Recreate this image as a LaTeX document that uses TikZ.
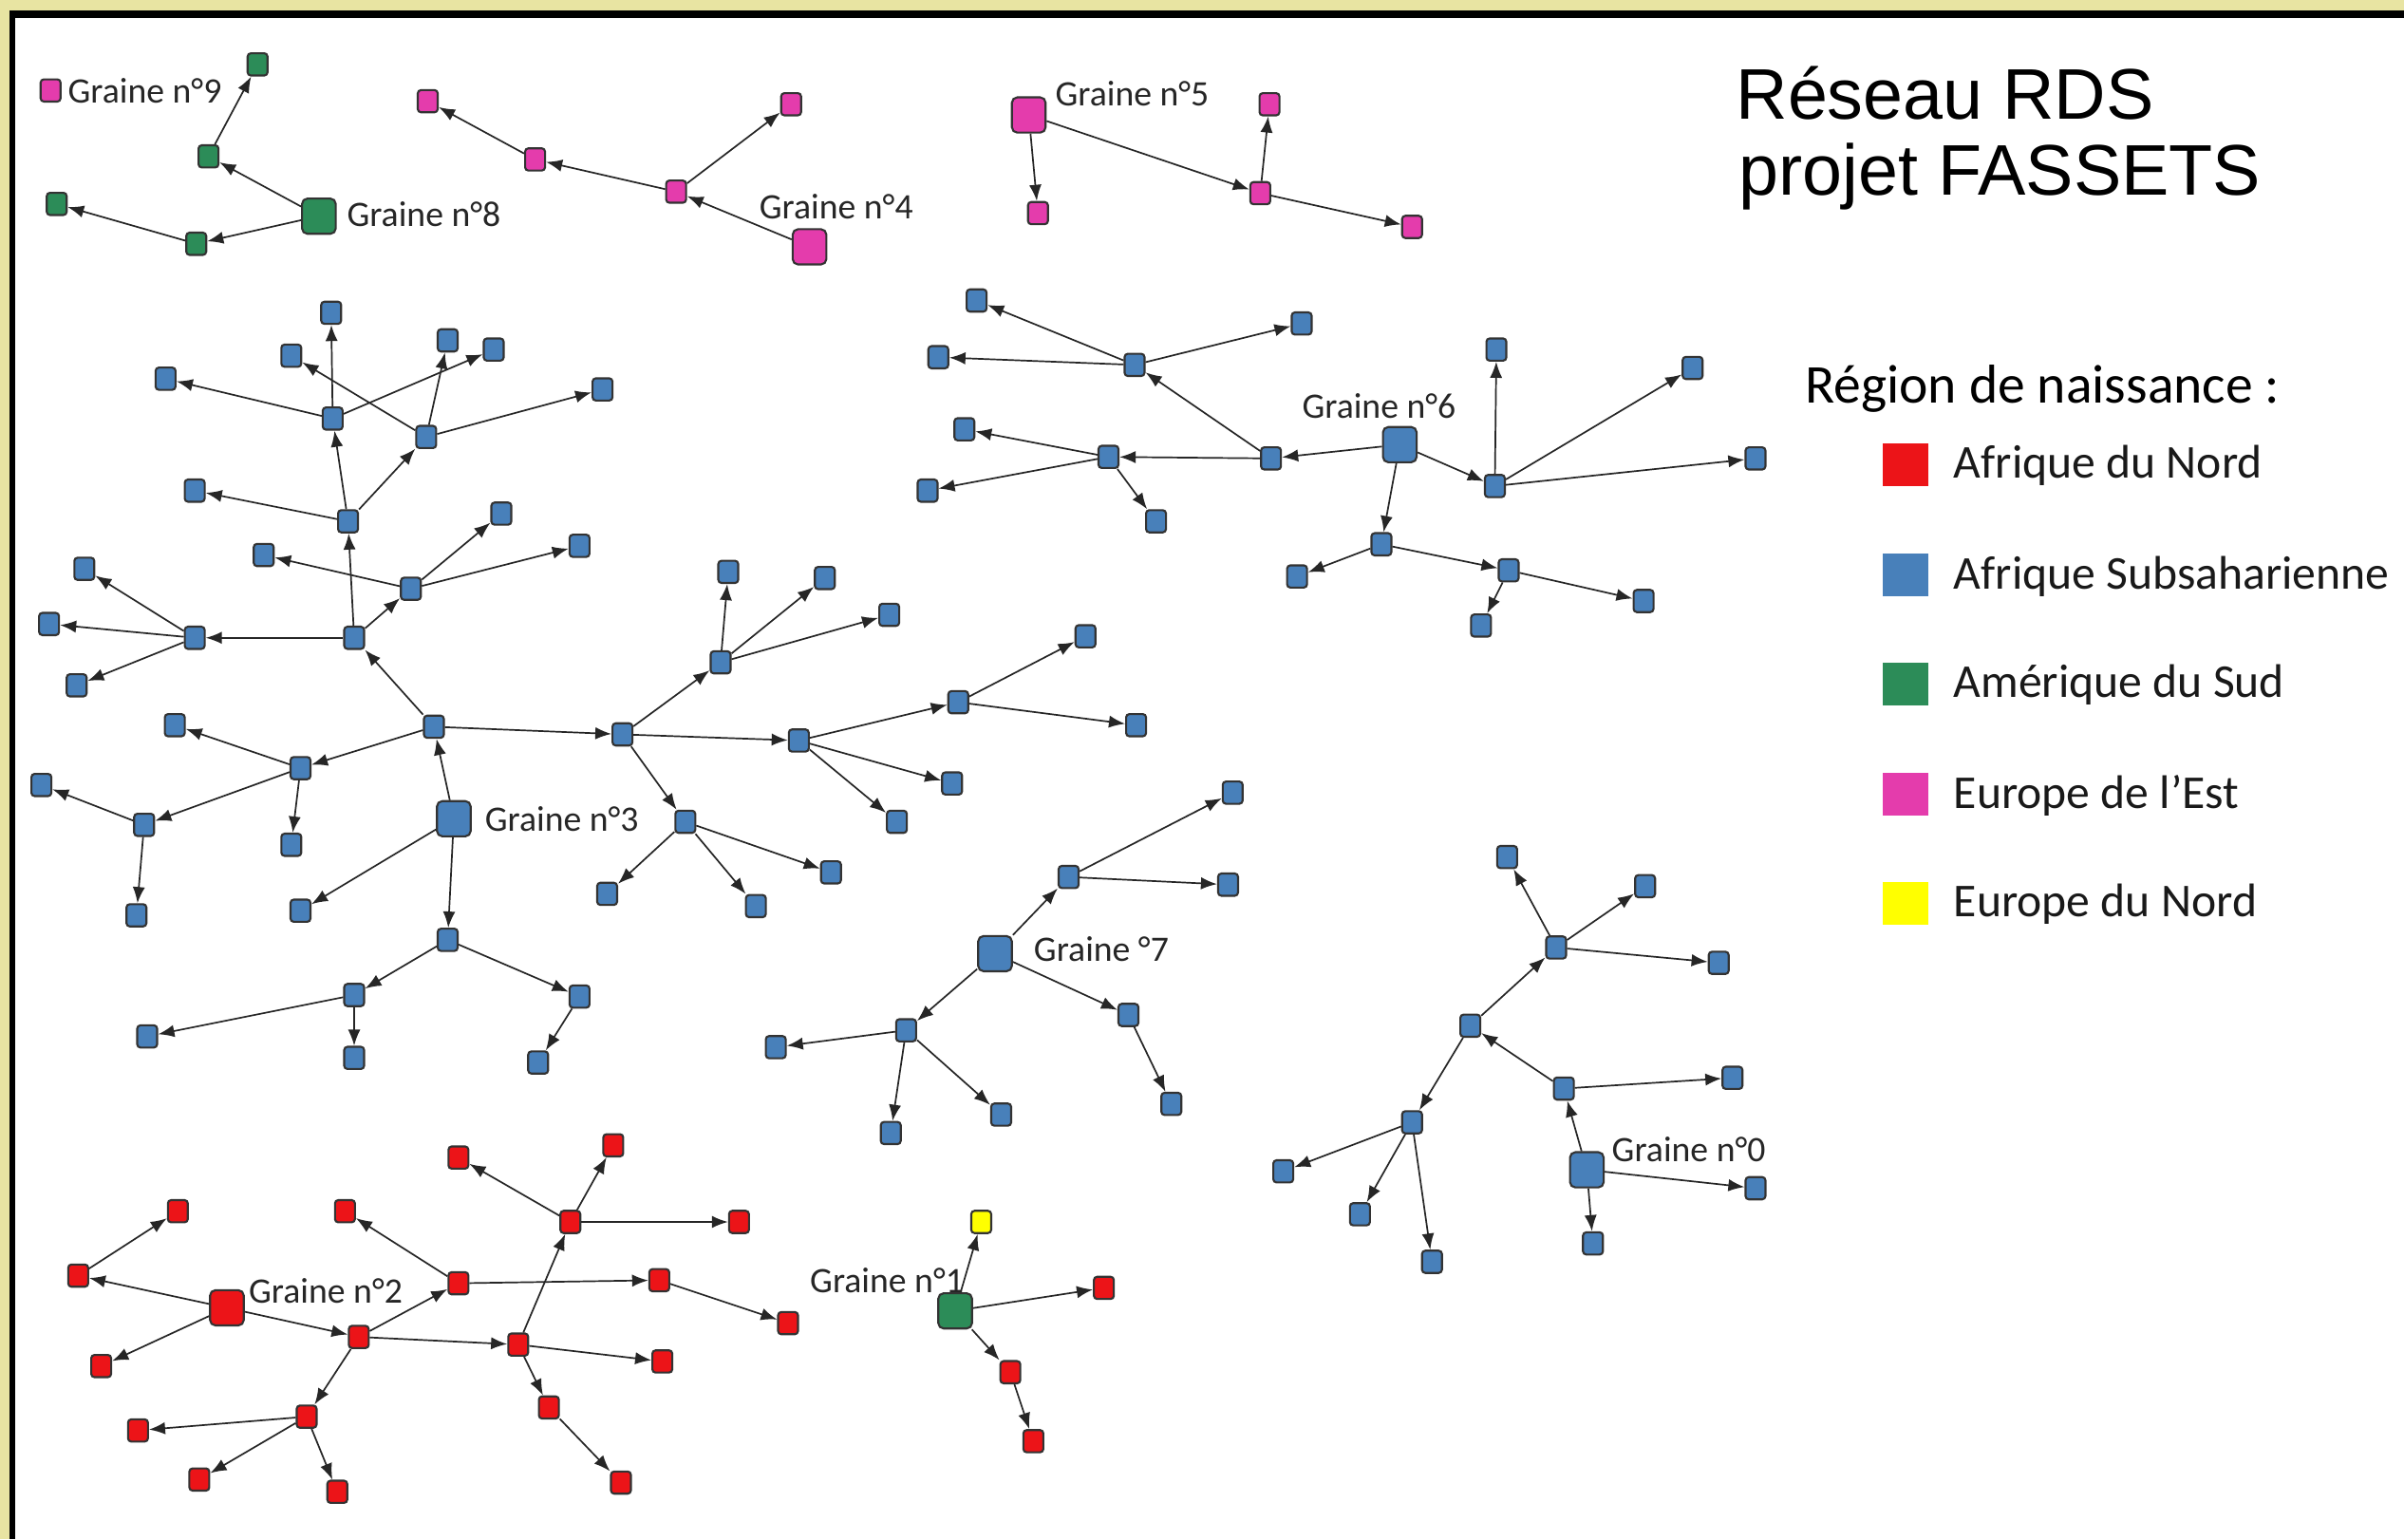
\documentclass[tikz,border=0pt]{standalone}
\usepackage{fontspec}
\setmainfont{Carlito}
\newfontfamily\titlefont{Liberation Sans}
\usetikzlibrary{arrows.meta}
\definecolor{nblue}{RGB}{72,128,186}
\definecolor{nred}{RGB}{236,20,24}
\definecolor{ngreen}{RGB}{44,140,88}
\definecolor{npink}{RGB}{228,60,172}
\definecolor{nyellow}{RGB}{255,255,0}
\definecolor{beige}{RGB}{232,228,162}
\tikzset{
 nd/.style={rectangle, rounded corners=1.2pt, draw=black!80, line width=0.75pt, minimum width=0.26cm, minimum height=0.29cm, inner sep=0pt},
 sd/.style={nd, minimum width=0.44cm, minimum height=0.46cm, rounded corners=2pt},
 bn/.style={nd, fill=nblue}, bs/.style={sd, fill=nblue},
 rn/.style={nd, fill=nred}, rs/.style={sd, fill=nred},
 gn/.style={nd, fill=ngreen}, gs/.style={sd, fill=ngreen},
 pn/.style={nd, fill=npink}, ps/.style={sd, fill=npink},
 yn/.style={nd, fill=nyellow},
 arr/.style={-{Latex[length=6pt,width=4.6pt]}, draw=black!85, line width=0.6pt},
 lab/.style={font=\fontsize{13.3}{15}\selectfont, inner sep=0pt, anchor=west, text=black!85},
 legsq/.style={rectangle, minimum width=0.6cm, minimum height=0.56cm, inner sep=0pt},
 legtx/.style={font=\fontsize{17.5}{20}\selectfont, inner sep=0pt, anchor=base west, text=black!90},
}
\begin{document}
\begin{tikzpicture}[x=0.02cm,y=-0.02cm]
% frame
\fill[beige] (0,0) rectangle (1568,1004);
\fill[black] (6,7) rectangle (1568,1004);
\fill[white] (10,12) rectangle (1568,1004);
\useasboundingbox (0,0) rectangle (1568,1004);

% title
\node[font=\titlefont\fontsize{26.6}{30}\selectfont, anchor=base west, inner sep=0pt] (t1) at (1132,78) {Réseau RDS};
\node[font=\titlefont\fontsize{26.6}{30}\selectfont, anchor=base west, inner sep=0pt] (t2) at (1134,127) {projet FASSETS};

% legend
\node[font=\fontsize{20.3}{24}\selectfont, anchor=base west, inner sep=0pt] (lh) at (1177,263) {Région de naissance :};
\node[legsq, fill=nred] (q1) at (1243,303) {};
\node[legsq, fill=nblue] (q2) at (1243,375) {};
\node[legsq, fill=ngreen] (q3) at (1243,446) {};
\node[legsq, fill=npink] (q4) at (1243,518) {};
\node[legsq, fill=nyellow] (q5) at (1243,589) {};
\node[legtx] (e1) at (1274,312) {Afrique du Nord};
\node[legtx] (e2) at (1274,384) {Afrique Subsaharienne};
\node[legtx] (e3) at (1274,455) {Amérique du Sud};
\node[legtx] (e4) at (1274,527) {Europe de l’Est};
\node[legtx] (e5) at (1274,598) {Europe du Nord};

% ---------- groups 8 / 9 ----------
\node[pn] (n9) at (33,59) {};
\node[lab] (l9) at (44,59) {Graine n°9};
\node[gs] (s8) at (208,141) {};
\node[lab] (l8) at (226,140) {Graine n°8};
\node[gn] (a8) at (136,102) {};
\node[gn] (b8) at (168,42) {};
\node[gn] (c8) at (128,159) {};
\node[gn] (d8) at (37,133) {};
\draw[arr] (s8) -- (a8);
\draw[arr] (a8) -- (b8);
\draw[arr] (s8) -- (c8);
\draw[arr] (c8) -- (d8);

% ---------- group 4 ----------
\node[ps] (s4) at (528,161) {};
\node[lab] (l4) at (495,135) {Graine n°4};
\node[pn] (a4) at (441,125) {};
\node[pn] (b4) at (349,104) {};
\node[pn] (c4) at (279,66) {};
\node[pn] (d4) at (516,68) {};
\draw[arr] (s4) -- (a4);
\draw[arr] (a4) -- (b4);
\draw[arr] (b4) -- (c4);
\draw[arr] (a4) -- (d4);

% ---------- group 5 ----------
\node[ps] (s5) at (671,75) {};
\node[lab] (l5) at (688,61) {Graine n°5};
\node[pn] (a5) at (677,139) {};
\node[pn] (b5) at (822,126) {};
\node[pn] (c5) at (828,68) {};
\node[pn] (d5) at (921,148) {};
\draw[arr] (s5) -- (a5);
\draw[arr] (s5) -- (b5);
\draw[arr] (b5) -- (c5);
\draw[arr] (b5) -- (d5);

% ---------- group 3 ----------
\node[bs] (s3) at (296,534) {};
\node[lab] (l3) at (316,534) {Graine n°3};
\node[bn] (t1) at (283,474) {};
\node[bn] (t2) at (231,416) {};
\node[bn] (t3) at (227,340) {};
\node[bn] (t4) at (217,273) {};
\node[bn] (t5) at (278,285) {};
\node[bn] (u1) at (216,204) {};
\node[bn] (u2) at (108,247) {};
\node[bn] (u3) at (322,228) {};
\node[bn] (u4) at (190,232) {};
\node[bn] (u5) at (292,222) {};
\node[bn] (u6) at (393,254) {};
\node[bn] (t6) at (127,320) {};
\node[bn] (t7) at (127,416) {};
\node[bn] (v1) at (55,371) {};
\node[bn] (v2) at (32,407) {};
\node[bn] (v3) at (50,447) {};
\node[bn] (t8) at (268,384) {};
\node[bn] (v4) at (172,362) {};
\node[bn] (v5) at (327,335) {};
\node[bn] (v6) at (378,356) {};
\node[bn] (t9) at (196,501) {};
\node[bn] (w1) at (114,473) {};
\node[bn] (w2) at (94,538) {};
\node[bn] (w3) at (190,551) {};
\node[bn] (w4) at (27,512) {};
\node[bn] (w5) at (89,597) {};
\node[bn] (w6) at (196,594) {};
\node[bn] (x1) at (292,613) {};
\node[bn] (x2) at (231,649) {};
\node[bn] (x3) at (378,650) {};
\node[bn] (x4) at (96,676) {};
\node[bn] (x5) at (231,690) {};
\node[bn] (x6) at (351,693) {};
\node[bn] (y1) at (406,479) {};
\node[bn] (y2) at (470,432) {};
\node[bn] (y3) at (521,483) {};
\node[bn] (y4) at (447,536) {};
\node[bn] (z1) at (475,373) {};
\node[bn] (z2) at (538,377) {};
\node[bn] (z3) at (580,401) {};
\node[bn] (z4) at (625,458) {};
\node[bn] (z5) at (585,536) {};
\node[bn] (z6) at (621,511) {};
\node[bn] (z7) at (708,415) {};
\node[bn] (z8) at (741,473) {};
\node[bn] (z9) at (396,583) {};
\node[bn] (z10) at (493,591) {};
\node[bn] (z11) at (542,569) {};
\foreach \a/\b in {s3/t1,t1/t2,t2/t3,t3/t4,t3/t5,t4/u1,t4/u2,t4/u3,t5/u4,t5/u5,t5/u6,
  t3/t6,t2/t7,t7/v1,t7/v2,t7/v3,t2/t8,t8/v4,t8/v5,t8/v6,t1/t9,t9/w1,t9/w2,t9/w3,
  w2/w4,w2/w5,s3/w6,s3/x1,x1/x2,x1/x3,x2/x4,x2/x5,x3/x6,t1/y1,y1/y2,y1/y3,y1/y4,
  y2/z1,y2/z2,y2/z3,y3/z4,y3/z5,y3/z6,z4/z7,z4/z8,y4/z9,y4/z10,y4/z11}
  \draw[arr] (\a) -- (\b);

% ---------- group 7 ----------
\node[bs] (s7) at (649,622) {};
\node[lab] (l7) at (674,619) {Graine °7};
\node[bn] (a7) at (697,572) {};
\node[bn] (b7) at (804,517) {};
\node[bn] (c7) at (801,577) {};
\node[bn] (d7) at (736,662) {};
\node[bn] (e7) at (764,720) {};
\node[bn] (f7) at (591,672) {};
\node[bn] (g7) at (506,683) {};
\node[bn] (h7) at (581,739) {};
\node[bn] (i7) at (653,727) {};
\foreach \a/\b in {s7/a7,a7/b7,a7/c7,s7/d7,d7/e7,s7/f7,f7/g7,f7/h7,f7/i7}
  \draw[arr] (\a) -- (\b);

% ---------- group 6 ----------
\node[bs] (s6) at (913,290) {};
\node[lab] (l6) at (849,265) {Graine n°6};
\node[bn] (a6) at (829,299) {};
\node[bn] (b6) at (740,238) {};
\node[bn] (c6) at (723,298) {};
\node[bn] (d6) at (637,196) {};
\node[bn] (e6) at (612,233) {};
\node[bn] (f6) at (849,211) {};
\node[bn] (g6) at (629,280) {};
\node[bn] (h6) at (605,320) {};
\node[bn] (i6) at (754,340) {};
\node[bn] (j6) at (975,317) {};
\node[bn] (k6) at (976,228) {};
\node[bn] (m6) at (1104,240) {};
\node[bn] (o6) at (1145,299) {};
\node[bn] (n6) at (901,355) {};
\node[bn] (p6) at (846,376) {};
\node[bn] (q6) at (984,372) {};
\node[bn] (r6) at (966,408) {};
\node[bn] (u6b) at (1072,392) {};
\foreach \a/\b in {s6/a6,a6/b6,a6/c6,b6/d6,b6/e6,b6/f6,c6/g6,c6/h6,c6/i6,
  s6/j6,j6/k6,j6/m6,j6/o6,s6/n6,n6/p6,n6/q6,q6/r6,q6/u6b}
  \draw[arr] (\a) -- (\b);

% ---------- group 0 ----------
\node[bs] (s0) at (1035,763) {};
\node[lab] (l0) at (1051,750) {Graine n°0};
\node[bn] (a0) at (1020,710) {};
\node[bn] (b0) at (959,669) {};
\node[bn] (c0) at (1130,703) {};
\node[bn] (d0) at (1015,618) {};
\node[bn] (e0) at (983,559) {};
\node[bn] (f0) at (1073,578) {};
\node[bn] (g0) at (1121,628) {};
\node[bn] (h0) at (921,732) {};
\node[bn] (i0) at (837,764) {};
\node[bn] (j0) at (887,792) {};
\node[bn] (k0) at (934,823) {};
\node[bn] (m0) at (1145,775) {};
\node[bn] (n0) at (1039,811) {};
\foreach \a/\b in {s0/a0,a0/b0,a0/c0,b0/d0,d0/e0,d0/f0,d0/g0,b0/h0,h0/i0,h0/j0,h0/k0,s0/m0,s0/n0}
  \draw[arr] (\a) -- (\b);

% ---------- group 2 ----------
\node[rs] (s2) at (148,853) {};
\node[lab] (l2) at (162,842) {Graine n°2};
\node[rn] (a2) at (51,832) {};
\node[rn] (b2) at (116,790) {};
\node[rn] (c2) at (66,891) {};
\node[rn] (d2) at (234,872) {};
\node[rn] (e2) at (299,837) {};
\node[rn] (f2) at (225,790) {};
\node[rn] (g2) at (299,755) {};
\node[rn] (h2) at (372,797) {};
\node[rn] (i2) at (400,747) {};
\node[rn] (j2) at (482,797) {};
\node[rn] (k2) at (430,835) {};
\node[rn] (m2r) at (514,863) {};
\node[rn] (n2) at (338,877) {};
\node[rn] (o2) at (432,888) {};
\node[rn] (p2) at (358,918) {};
\node[rn] (r2) at (405,967) {};
\node[rn] (q2) at (200,924) {};
\node[rn] (v2r) at (90,933) {};
\node[rn] (w2r) at (130,965) {};
\node[rn] (x2r) at (220,973) {};
\foreach \a/\b in {s2/a2,a2/b2,s2/c2,s2/d2,d2/e2,d2/n2,d2/q2,q2/v2r,q2/w2r,q2/x2r,
  n2/h2,n2/o2,n2/p2,p2/r2,h2/g2,h2/i2,h2/j2,e2/f2,e2/k2,k2/m2r}
  \draw[arr] (\a) -- (\b);

% ---------- group 1 ----------
\node[gs] (s1) at (623,855) {};
\node[lab] (l1) at (528,835) {Graine n°1};
\node[yn] (a1) at (640,797) {};
\node[rn] (b1) at (720,840) {};
\node[rn] (c1) at (659,895) {};
\node[rn] (d1) at (674,940) {};
\foreach \a/\b in {s1/a1,s1/b1,s1/c1,c1/d1}
  \draw[arr] (\a) -- (\b);
\end{tikzpicture}
\end{document}
